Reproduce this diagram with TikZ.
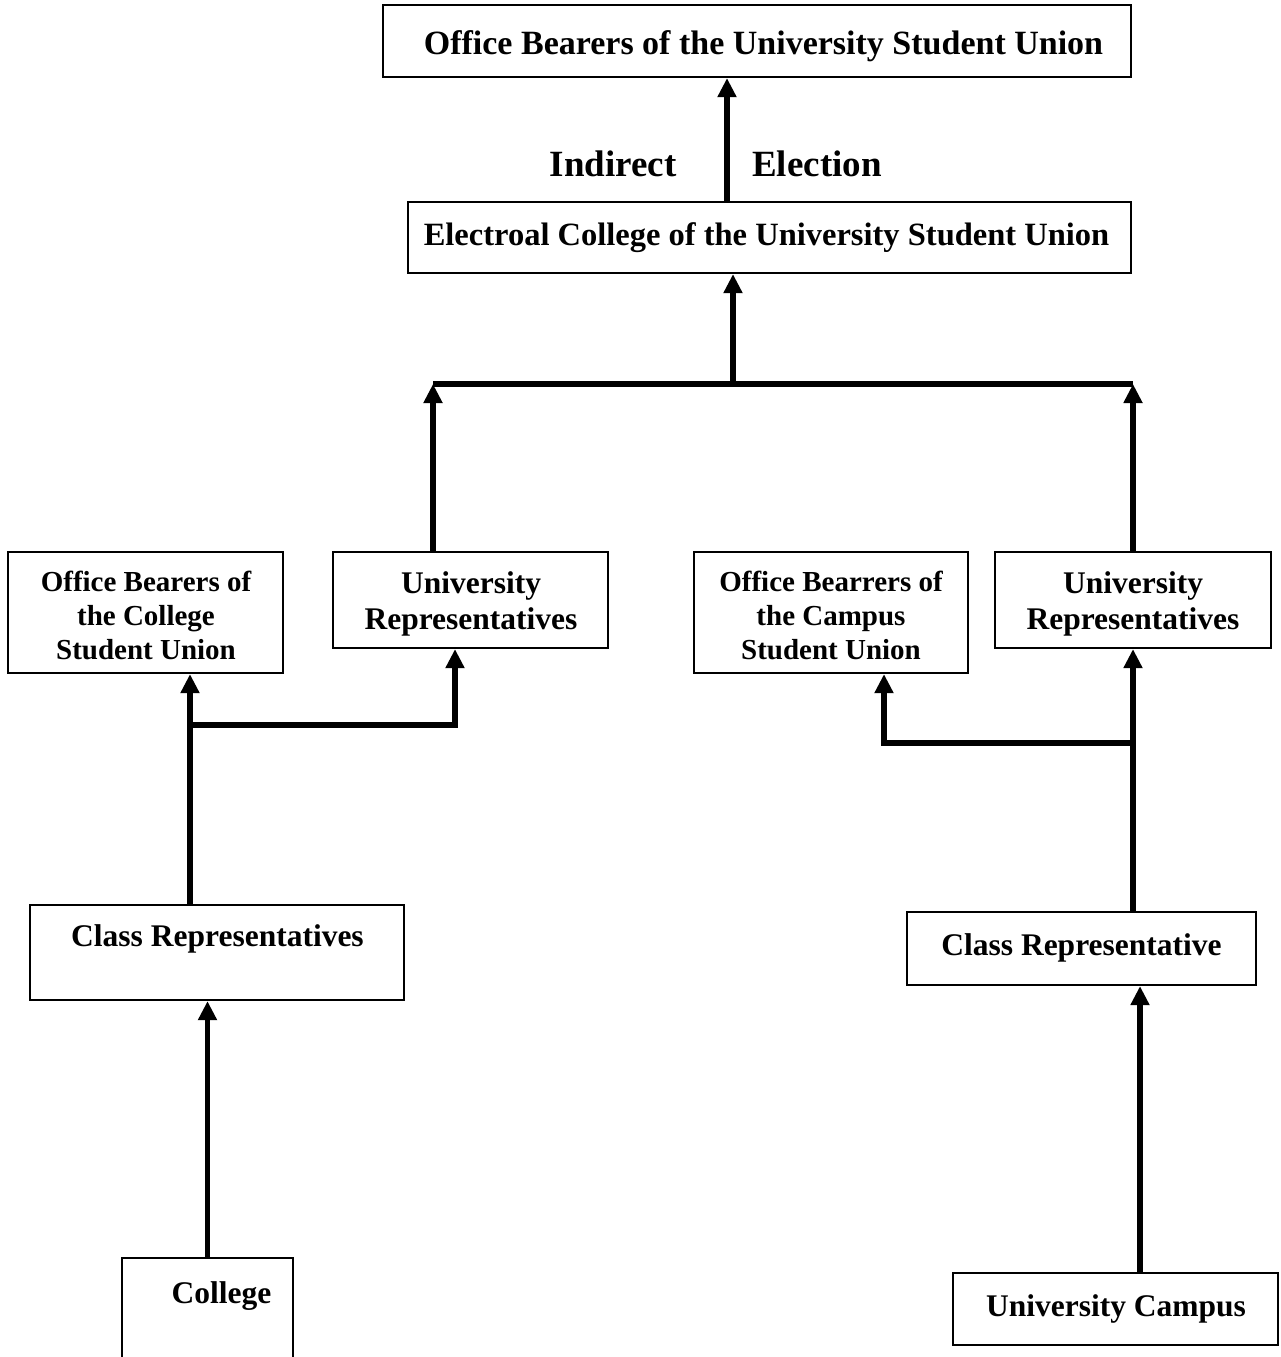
\documentclass[tikz,border=0pt]{standalone}
\usepackage{fontspec}
\setmainfont{Liberation Serif}
\usetikzlibrary{arrows.meta}
\begin{document}
\begin{tikzpicture}[x=1pt,y=-1pt,
  box/.style={draw, rectangle, line width=2.2pt, inner sep=0pt},
  txt/.style 2 args={inner sep=0pt, align=center, font=\bfseries\fontsize{#1}{#2}\selectfont},
  arr/.style={line width=5.5pt, -{Triangle[width=18pt,length=19pt]}},
  bar/.style={line width=5.5pt}]
\useasboundingbox (0,0) rectangle (1281,1357);
\fill[white] (0,0) rectangle (1281,1357);
\clip (0,0) rectangle (1281,1357);
% boxes
\node[box, minimum width=748pt, minimum height=72pt] (obu) at (757,41) {};
\node[box, minimum width=723pt, minimum height=71pt] (ec) at (769.5,237.5) {};
\node[box, minimum width=275pt, minimum height=121pt] (ob1) at (145.5,612.5) {};
\node[box, minimum width=275pt, minimum height=96pt] (ur1) at (470.5,600) {};
\node[box, minimum width=274pt, minimum height=121pt] (ob2) at (831,612.5) {};
\node[box, minimum width=276pt, minimum height=96pt] (ur2) at (1133,600) {};
\node[box, minimum width=374pt, minimum height=95pt] (cr1) at (217,952.5) {};
\node[box, minimum width=349pt, minimum height=73pt] (cr2) at (1081.5,948.5) {};
\node[box, minimum width=171pt, minimum height=130pt] (col) at (207.5,1323) {};
\node[box, minimum width=325pt, minimum height=72pt] (uc) at (1115.5,1309) {};
% texts
\node[txt={34}{40}, anchor=base] (obut) at (763.5,54) {Office Bearers of the University Student Union};
\node[txt={37}{44}, anchor=base] (ind) at (613,176) {Indirect};
\node[txt={37}{44}, anchor=base] (ele) at (817,176) {Election};
\node[txt={32.5}{38}, anchor=base] (ect) at (766.5,245) {Electroal College of the University Student Union};
\node[txt={29}{34}] (ob1t) at (146,615) {Office Bearers of\\the College\\Student Union};
\node[txt={31.5}{36}] (ur1t) at (471,604) {University\\Representatives};
\node[txt={29}{34}] (ob2t) at (831,615) {Office Bearrers of\\the Campus\\Student Union};
\node[txt={31.5}{36}] (ur2t) at (1133,604) {University\\Representatives};
\node[txt={31.5}{36}, anchor=base] (cr1t) at (217.5,946) {Class Representatives};
\node[txt={31.5}{36}, anchor=base] (cr2t) at (1081.5,955) {Class Representative};
\node[txt={31.5}{36}, anchor=base] (colt) at (221.5,1303) {College};
\node[txt={31.5}{36}, anchor=base] (uct) at (1116,1316) {University Campus};
% connectors
\coordinate (a0) at (727,0);
\draw[arr] (ec.north -| a0) -- (obu.south -| a0);
\coordinate (jt) at (733,384);
\coordinate (jl) at (433,384);
\coordinate (jr) at (1133,384);
\draw[arr] (jt) -- (ec.south -| jt);
\draw[bar] (jl) -- (jr);
\draw[arr] (ur1.north -| jl) -- (jl);
\draw[arr] (ur2.north -| jr) -- (jr);
\coordinate (jl2) at (190,725);
\coordinate (jl3) at (455,725);
\draw[arr] (cr1.north -| jl2) -- (ob1.south -| jl2);
\draw[arr] (jl2) -- (jl3) -- (ur1.south -| jl3);
\draw[arr] (col.north) -- (cr1.south -| col.north);
\coordinate (jr2) at (1133,743);
\coordinate (jr3) at (884,743);
\draw[arr] (cr2.north -| jr2) -- (ur2.south -| jr2);
\draw[arr] (jr2) -- (jr3) -- (ob2.south -| jr3);
\coordinate (jr4) at (1140,0);
\draw[arr] (uc.north -| jr4) -- (cr2.south -| jr4);
\end{tikzpicture}
\end{document}
